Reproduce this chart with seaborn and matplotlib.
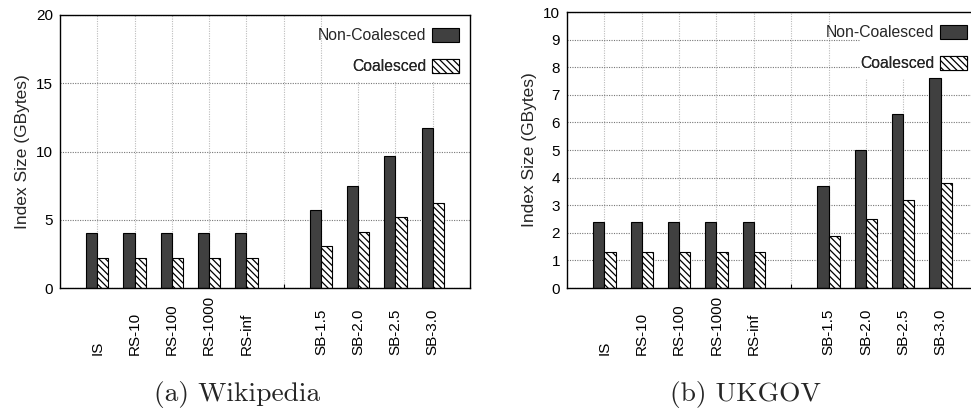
import matplotlib
matplotlib.use("Agg")
import matplotlib.pyplot as plt
from matplotlib.patches import Patch, Rectangle
import seaborn as sns
import pandas as pd

# ---- data ----
methods = ["IS", "RS-10", "RS-100", "RS-1000", "RS-inf",
           "SB-1.5", "SB-2.0", "SB-2.5", "SB-3.0"]
slot_order = ["IS", "RS-10", "RS-100", "RS-1000", "RS-inf", " ",
              "SB-1.5", "SB-2.0", "SB-2.5", "SB-3.0"]
series = ["Non-Coalesced", "Coalesced"]
wiki_noncoal = [4.0, 4.0, 4.0, 4.0, 4.0, 5.7, 7.5, 9.7, 11.7]
wiki_coal = [2.2, 2.2, 2.2, 2.2, 2.2, 3.1, 4.1, 5.2, 6.2]
ukgov_noncoal = [2.4, 2.4, 2.4, 2.4, 2.4, 3.7, 5.0, 6.3, 7.6]
ukgov_coal = [1.3, 1.3, 1.3, 1.3, 1.3, 1.9, 2.5, 3.2, 3.8]
wiki_yticks = [0, 5, 10, 15, 20]
ukgov_yticks = list(range(0, 11))
ylabel = "Index Size (GBytes)"
captions = ["(a) Wikipedia", "(b) UKGOV"]

sns.set_theme(style="white")
plt.rcParams["font.family"] = ["Liberation Sans", "DejaVu Sans"]
plt.rcParams["hatch.linewidth"] = 0.9

DARK = "#404040"
HATCH = "\\\\\\\\\\"
FS = 11
LFS = 11.3

fig = plt.figure(figsize=(9.71, 4.13), dpi=100)
W, H = 971.0, 413.0
ax1 = fig.add_axes([60 / W, (H - 288) / H, 410 / W, 273 / H])
ax2 = fig.add_axes([567 / W, (H - 288) / H, 411 / W, 276 / H])


def make_df(nc, c):
    return pd.DataFrame({
        "method": methods * 2,
        "type": [series[0]] * len(methods) + [series[1]] * len(methods),
        "size": list(nc) + list(c),
    })


def draw(ax, nc, c, yticks, hpx):
    df = make_df(nc, c)
    sns.barplot(data=df, x="method", y="size", hue="type", order=slot_order,
                hue_order=series, palette={series[0]: DARK, series[1]: "white"},
                width=0.6, saturation=1, edgecolor="black", linewidth=0.8,
                legend=False, ax=ax, zorder=2)
    for p in ax.containers[1]:
        p.set_hatch(HATCH)
    ax.set_xlim(-1, 10)
    ax.set_ylim(yticks[0], yticks[-1])
    ax.set_yticks(yticks)
    ax.set_yticklabels([str(t) for t in yticks], fontsize=FS)
    ax.set_xticks(range(len(slot_order)))
    labels = [s.strip() for s in slot_order]
    ax.set_xticklabels(labels, rotation=90, fontsize=FS, va="bottom", ha="center")
    ax.tick_params(axis="x", direction="in", length=3, width=0.8, pad=48,
                   bottom=True, colors="black")
    ax.tick_params(axis="y", length=0, pad=5, colors="black")
    ax.set_xlabel("")
    ax.set_ylabel(ylabel, fontsize=12.5, labelpad=4.5)
    ax.set_axisbelow(True)
    ax.yaxis.grid(True, color="#777777", linestyle=(0, (1, 1.2)), linewidth=0.8)
    ax.xaxis.grid(True, color="#bbbbbb", linestyle=(0, (1, 1.2)), linewidth=0.8)
    for s in ax.spines.values():
        s.set_color("black")
        s.set_linewidth(1.0)
    wpx = ax.get_position().width * W
    # opaque key area
    ax.add_patch(Rectangle((1 - 118 / wpx, 1 - 66.5 / hpx), 1, 1,
                           transform=ax.transAxes, facecolor="white",
                           edgecolor="none", zorder=1.5))
    handles = [Patch(facecolor=DARK, edgecolor="black", linewidth=0.8),
               Patch(facecolor="white", edgecolor="black", linewidth=0.8, hatch=HATCH)]
    for i, (h, lab) in enumerate(zip(handles, series)):
        leg = ax.legend([h], [lab], loc="upper right",
                        bbox_to_anchor=(1, 1 - (2 + i * 31) / hpx),
                        borderaxespad=0, borderpad=0.7, frameon=False,
                        markerfirst=False, fontsize=LFS, handlelength=1.7,
                        handleheight=1.0, handletextpad=0.36)
        leg.set_zorder(5)
        ax.add_artist(leg)


draw(ax1, wiki_noncoal, wiki_coal, wiki_yticks, 273)
draw(ax2, ukgov_noncoal, ukgov_coal, ukgov_yticks, 276)

fig.text(237 / W, 1 - 395 / H, captions[0], ha="center", va="center",
         family=["cmr10", "DejaVu Serif"], fontsize=19.8)
fig.text(745 / W, 1 - 395 / H, captions[1], ha="center", va="center",
         family=["cmr10", "DejaVu Serif"], fontsize=19.8)

fig.savefig("out.png", dpi=100)
